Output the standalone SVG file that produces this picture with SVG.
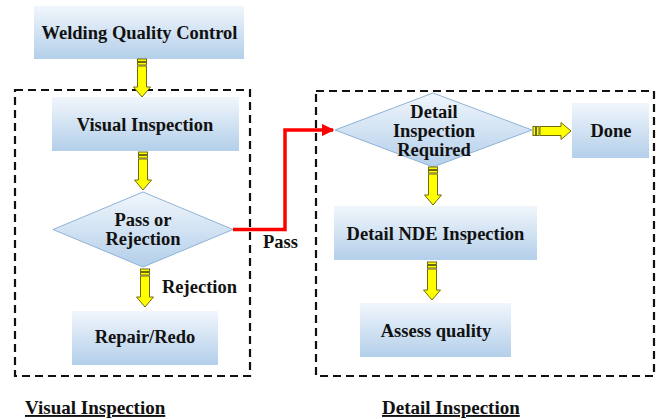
<svg xmlns="http://www.w3.org/2000/svg" width="660" height="419" viewBox="0 0 660 419">
  <style>
    .box { fill: url(#boxFill); }
    .dia { fill: url(#boxFill); stroke: #8fb3d6; stroke-width: 1; }
    .frame { fill: none; stroke: #111; stroke-width: 2.2; stroke-dasharray: 8 5; }
    .t { font-family: "Liberation Serif", "Times New Roman", "DejaVu Serif", serif; font-weight: bold; font-size: 18.5px; fill: #111; text-anchor: middle; }
    .lbl { font-family: "Liberation Serif", "Times New Roman", "DejaVu Serif", serif; font-weight: bold; font-size: 18.5px; fill: #111; }
    .ul { text-decoration: underline; font-size: 19px; }
    .ya { fill: #ffff00; stroke: #6e6a10; stroke-width: 1; stroke-linejoin: miter; }
    .red { fill: none; stroke: #ff0000; stroke-width: 3.5; }
  </style>
  <defs>
    <linearGradient id="boxFill" x1="0" y1="0" x2="0" y2="1">
      <stop offset="0" stop-color="#f1f6fc"/>
      <stop offset="1" stop-color="#b3cfea"/>
    </linearGradient>
    <!-- striped block arrow pointing down, origin at top centre -->
    <g id="yArrow">
      <rect class="ya" x="-4.5" y="0" width="9" height="2.5"/>
      <rect class="ya" x="-4.5" y="3.5" width="9" height="2.5"/>
      <path class="ya" d="M-4.5,7 H4.5 V28 H8.5 L0,38 L-8.5,28 H-4.5 Z"/>
    </g>
    <marker id="redHead" viewBox="0 0 10 10" refX="9" refY="5" markerWidth="3.6" markerHeight="3.6" orient="auto" markerUnits="strokeWidth">
      <path d="M0,0 L10,5 L0,10 Z" fill="#ff0000"/>
    </marker>
  </defs>

  <!-- section frames -->
  <rect class="frame" x="15" y="90" width="235" height="286"/>
  <rect class="frame" x="316" y="91" width="338" height="285"/>

  <g id="welding-quality-control">
    <rect class="box" x="34" y="6" width="210" height="53"/>
    <text class="t" x="139.5" y="39">Welding Quality Control</text>
  </g>

  <g id="visual-inspection">
    <rect class="box" x="52" y="97" width="187" height="54"/>
    <text class="t" x="145" y="131">Visual Inspection</text>
  </g>

  <g id="pass-or-rejection">
    <polygon class="dia" points="143,192 233,229.5 143,267 53,229.5"/>
    <text class="t" x="143" y="225.5">Pass or</text>
    <text class="t" x="143" y="244.5">Rejection</text>
  </g>

  <g id="repair-redo">
    <rect class="box" x="72" y="311" width="146" height="54"/>
    <text class="t" x="145" y="343">Repair/Redo</text>
  </g>

  <g id="detail-inspection-required">
    <polygon class="dia" points="433,93 532,130 433,167 335,130"/>
    <text class="t" x="434" y="117.5">Detail</text>
    <text class="t" x="434" y="136.5">Inspection</text>
    <text class="t" x="434" y="155.5">Required</text>
  </g>

  <g id="done">
    <rect class="box" x="572" y="103" width="77" height="55"/>
    <text class="t" x="611" y="137">Done</text>
  </g>

  <g id="detail-nde-inspection">
    <rect class="box" x="334" y="206" width="203" height="54"/>
    <text class="t" x="435.5" y="240">Detail NDE Inspection</text>
  </g>

  <g id="assess-quality">
    <rect class="box" x="360" y="303" width="151" height="54"/>
    <text class="t" x="436" y="337">Assess quality</text>
  </g>

  <g id="connectors">
    <use href="#yArrow" x="142" y="59"/>
    <use href="#yArrow" x="143" y="152"/>
    <use href="#yArrow" x="145" y="269"/>
    <use href="#yArrow" x="433" y="167"/>
    <use href="#yArrow" x="432" y="262"/>
    <use href="#yArrow" transform="translate(533,131) rotate(-90)"/>
    <path class="red" d="M233,229.5 H285 V130 H333" marker-end="url(#redHead)"/>
    <text class="lbl" x="162" y="293">Rejection</text>
    <text class="lbl" x="263" y="248">Pass</text>
  </g>

  <text class="lbl ul" x="25" y="414">Visual Inspection</text>
  <text class="lbl ul" x="382" y="414">Detail Inspection</text>
</svg>
